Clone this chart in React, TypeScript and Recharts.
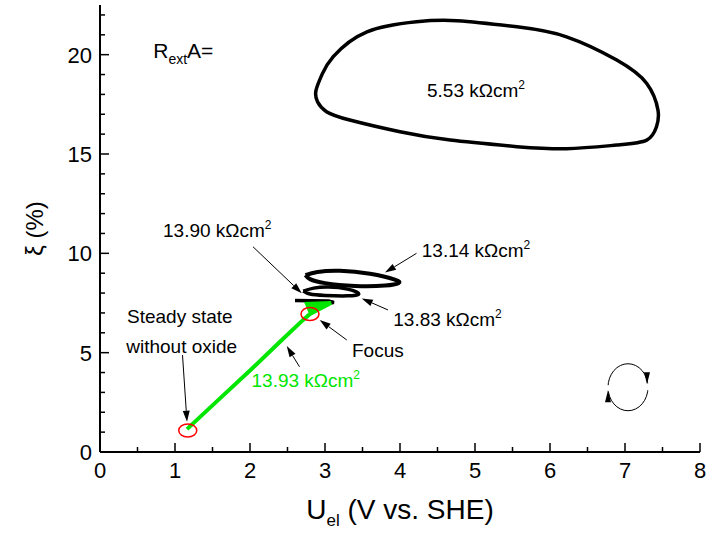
import { ComposedChart, Line, XAxis, YAxis, Scatter, ReferenceLine, ReferenceDot } from "recharts";

const FONT = '"Liberation Sans", Arial, sans-serif';
const GREEN = "#00e600";

const xTicks = [0, 0.5, 1, 1.5, 2, 2.5, 3, 3.5, 4, 4.5, 5, 5.5, 6, 6.5, 7, 7.5, 8];
const yTicks = [0, 1, 2, 3, 4, 5, 6, 7, 8, 9, 10, 11, 12, 13, 14, 15, 16, 17, 18, 19, 20, 21, 22];

// limit cycle, R_ext A = 5.53 kOhm cm2 (starts on the flat lower edge so the closure stays smooth)
const loop553 = [
	{ x: 5.56, y: 15.37 },
	{ x: 4.67, y: 15.7 },
	{ x: 4.0, y: 16.12 },
	{ x: 3.33, y: 16.71 },
	{ x: 3.02, y: 17.13 },
	{ x: 2.9, y: 17.63 },
	{ x: 2.88, y: 18.2 },
	{ x: 2.96, y: 19.0 },
	{ x: 3.11, y: 19.9 },
	{ x: 3.56, y: 21.15 },
	{ x: 4.22, y: 21.66 },
	{ x: 4.76, y: 21.71 },
	{ x: 5.56, y: 21.4 },
	{ x: 6.22, y: 20.9 },
	{ x: 6.89, y: 19.73 },
	{ x: 7.29, y: 18.55 },
	{ x: 7.44, y: 17.2 },
	{ x: 7.42, y: 16.37 },
	{ x: 7.29, y: 15.7 },
	{ x: 6.89, y: 15.45 },
	{ x: 6.22, y: 15.27 },
	{ x: 5.56, y: 15.37 },
];

const loop1314 = [
	{ x: 2.74, y: 8.9 },
	{ x: 2.9, y: 9.06 },
	{ x: 3.2, y: 9.12 },
	{ x: 3.6, y: 8.97 },
	{ x: 3.93, y: 8.68 },
	{ x: 3.98, y: 8.5 },
	{ x: 3.8, y: 8.38 },
	{ x: 3.4, y: 8.36 },
	{ x: 3.0, y: 8.5 },
	{ x: 2.8, y: 8.7 },
	{ x: 2.74, y: 8.9 },
];

const loop1383 = [
	{ x: 2.71, y: 8.1 },
	{ x: 2.85, y: 8.25 },
	{ x: 3.05, y: 8.3 },
	{ x: 3.3, y: 8.2 },
	{ x: 3.45, y: 7.97 },
	{ x: 3.3, y: 7.86 },
	{ x: 3.0, y: 7.88 },
	{ x: 2.8, y: 7.95 },
	{ x: 2.71, y: 8.1 },
];

const trace1390 = [
	{ x: 2.6, y: 7.62 },
	{ x: 3.05, y: 7.6 },
	{ x: 3.12, y: 7.52 },
	{ x: 2.78, y: 7.48 },
	{ x: 3.1, y: 7.5 },
];

const trace1393 = [
	{ x: 1.16, y: 1.15 },
	{ x: 1.6, y: 2.7 },
	{ x: 2.0, y: 4.1 },
	{ x: 2.4, y: 5.55 },
	{ x: 2.68, y: 6.55 },
	{ x: 2.8, y: 6.95 },
	{ x: 3.08, y: 7.5 },
	{ x: 2.76, y: 7.45 },
	{ x: 2.8, y: 7.1 },
	{ x: 3.0, y: 7.45 },
	{ x: 2.78, y: 7.3 },
	{ x: 2.85, y: 7.45 },
];

const markedStates = [
	{ x: 1.17, y: 1.08 },
	{ x: 2.8, y: 6.95 },
];

const arrows = [
	{ from: [2.04, 10.33], to: [2.69, 7.99] },
	{ from: [4.22, 10.0], to: [3.8, 9.03] },
	{ from: [3.84, 7.15], to: [3.49, 7.73] },
	{ from: [3.29, 5.64], to: [2.93, 6.64] },
	{ from: [1.1, 4.88], to: [1.16, 1.52] },
	{ from: [2.66, 4.29], to: [2.49, 5.33] },
];

const notes = [
	{ text: "5.53 kΩcm", sup: "2", x: 4.36, y: 17.85, color: "#000" },
	{ text: "13.90 kΩcm", sup: "2", x: 0.84, y: 10.84, color: "#000" },
	{ text: "13.14 kΩcm", sup: "2", x: 4.29, y: 9.83, color: "#000" },
	{ text: "13.83 kΩcm", sup: "2", x: 3.91, y: 6.34, color: "#000" },
	{ text: "Focus", sup: "", x: 3.36, y: 4.8, color: "#000" },
	{ text: "Steady state", sup: "", x: 0.36, y: 6.48, color: "#000" },
	{ text: "without oxide", sup: "", x: 0.35, y: 5.0, color: "#000" },
	{ text: "13.93 kΩcm", sup: "2", x: 2.02, y: 3.29, color: GREEN },
];

const rotationMark = { x: 7.04, y: 3.26 };
const rextLabel = { x: 0.71, y: 19.81 };

const tickLen = (v: number, step: number) => (v % step === 0 ? 9 : 5);

const BottomTick = (p: any) => {
	const v = p.payload.value;
	return (
		<g>
			<line x1={p.x} x2={p.x} y1={p.y} y2={p.y - tickLen(v, 1)} stroke="#000" strokeWidth={1.5} />
			{v % 1 === 0 && (
				<text x={p.x} y={p.y + 26} textAnchor="middle" fontSize={22} fontFamily={FONT} fill="#000">
					{v}
				</text>
			)}
		</g>
	);
};

const TopTick = (p: any) => (
	<line x1={p.x} x2={p.x} y1={p.y} y2={p.y + tickLen(p.payload.value, 1)} stroke="#000" strokeWidth={1.5} />
);

const LeftTick = (p: any) => {
	const v = p.payload.value;
	return (
		<g>
			<line x1={p.x} x2={p.x + tickLen(v, 5)} y1={p.y} y2={p.y} stroke="#000" strokeWidth={1.5} />
			{v % 5 === 0 && (
				<text x={p.x - 8} y={p.y + 8} textAnchor="end" fontSize={22} fontFamily={FONT} fill="#000">
					{v}
				</text>
			)}
		</g>
	);
};

const RightTick = (p: any) => (
	<line x1={p.x} x2={p.x - tickLen(p.payload.value, 5)} y1={p.y} y2={p.y} stroke="#000" strokeWidth={1.5} />
);

const XTitle = (p: any) => {
	const { x, y, width } = p.viewBox;
	return (
		<text x={x + width / 2} y={y + 67} textAnchor="middle" fontSize={28} fontFamily={FONT} fill="#000">
			U<tspan dy={7} fontSize={17}>el</tspan>
			<tspan dy={-7}> (V vs. SHE)</tspan>
		</text>
	);
};

const YTitle = (p: any) => {
	const { y, height } = p.viewBox;
	const cx = 34;
	const cy = y + height / 2;
	return (
		<text
			x={cx}
			y={cy}
			transform={`rotate(-90 ${cx} ${cy})`}
			textAnchor="middle"
			dominantBaseline="central"
			fontSize={24}
			fontFamily={FONT}
			fill="#000"
		>
			ξ (%)
		</text>
	);
};

const Arrow = (p: any) => {
	const { x1, y1, x2, y2 } = p;
	const a = Math.atan2(y2 - y1, x2 - x1);
	const L = 11;
	const W = 3.5;
	const bx = x2 - L * Math.cos(a);
	const by = y2 - L * Math.sin(a);
	const px = -Math.sin(a) * W;
	const py = Math.cos(a) * W;
	return (
		<g>
			<line x1={x1} y1={y1} x2={bx} y2={by} stroke="#000" strokeWidth={1} />
			<polygon points={`${x2},${y2} ${bx + px},${by + py} ${bx - px},${by - py}`} fill="#000" />
		</g>
	);
};

const StateRing = (p: any) => (
	<ellipse cx={p.cx} cy={p.cy} rx={9} ry={6.5} fill="none" stroke="#ff0000" strokeWidth={1.5} />
);

const RotationMark = (p: any) => {
	const { cx, cy } = p;
	return (
		<g>
			<ellipse cx={cx} cy={cy} rx={20} ry={23.5} fill="none" stroke="#000" strokeWidth={1} />
			<rect x={cx + 15} y={cy - 4} width={8} height={7} fill="#fff" />
			<rect x={cx - 23} y={cy - 2} width={8} height={6} fill="#fff" />
			<polygon points={`${cx + 16},${cy - 15} ${cx + 22},${cy - 15} ${cx + 19},${cy - 3}`} fill="#000" />
			<polygon points={`${cx - 23},${cy + 15} ${cx - 17},${cy + 15} ${cx - 20},${cy + 3}`} fill="#000" />
		</g>
	);
};

const Note = ({ n }: { n: (typeof notes)[number] }) => (p: any) => (
	<text x={p.cx} y={p.cy} fontSize={19} fontFamily={FONT} fill={n.color}>
		{n.text}
		{n.sup && (
			<tspan dy={-8} fontSize={12}>
				{n.sup}
			</tspan>
		)}
	</text>
);

const RextText = (p: any) => (
	<text x={p.cx} y={p.cy} fontSize={21} fontFamily={FONT} fill="#000">
		R
		<tspan dy={6} fontSize={14}>
			ext
		</tspan>
		<tspan dy={-6}>A=</tspan>
	</text>
);

const ids = { xAxisId: "b", yAxisId: "l" };

export default function App() {
	return (
		<div style={{ position: "absolute", left: 0, top: 0, width: 706, height: 535, background: "#fff" }}>
			<ComposedChart width={706} height={535} margin={{ top: 5, right: 6, bottom: 0, left: 0 }}>
				<XAxis
					xAxisId="b"
					type="number"
					dataKey="x"
					domain={[0, 8]}
					ticks={xTicks}
					interval={0}
					allowDataOverflow
					height={83}
					tickSize={0}
					tickMargin={0}
					tickLine={false}
					tick={BottomTick}
					axisLine={{ stroke: "#000", strokeWidth: 2 }}
					label={XTitle}
				/>
				<XAxis
					xAxisId="t"
					orientation="top"
					type="number"
					dataKey="x"
					domain={[0, 8]}
					ticks={xTicks}
					interval={0}
					allowDataOverflow
					height={0}
					tickSize={0}
					tickMargin={0}
					tickLine={false}
					tick={TopTick}
					axisLine={{ stroke: "#000", strokeWidth: 2 }}
				/>
				<YAxis
					yAxisId="l"
					type="number"
					dataKey="y"
					domain={[0, 22.5]}
					ticks={yTicks}
					interval={0}
					allowDataOverflow
					width={100}
					tickSize={0}
					tickMargin={0}
					tickLine={false}
					tick={LeftTick}
					axisLine={{ stroke: "#000", strokeWidth: 2 }}
					label={YTitle}
				/>
				<YAxis
					yAxisId="r"
					orientation="right"
					type="number"
					dataKey="y"
					domain={[0, 22.5]}
					ticks={yTicks}
					interval={0}
					allowDataOverflow
					width={0}
					tickSize={0}
					tickMargin={0}
					tickLine={false}
					tick={RightTick}
					axisLine={{ stroke: "#000", strokeWidth: 2 }}
				/>

				<Line {...ids} data={loop553} dataKey="y" type="natural" stroke="#000" strokeWidth={3.5} dot={false} activeDot={false} isAnimationActive={false} />
				<Line {...ids} data={loop1314} dataKey="y" type="natural" stroke="#000" strokeWidth={4} dot={false} activeDot={false} isAnimationActive={false} />
				<Line {...ids} data={loop1383} dataKey="y" type="natural" stroke="#000" strokeWidth={3.5} dot={false} activeDot={false} isAnimationActive={false} />
				<Line {...ids} data={trace1390} dataKey="y" type="linear" stroke="#000" strokeWidth={3.5} dot={false} activeDot={false} isAnimationActive={false} />
				<Line {...ids} data={trace1393} dataKey="y" type="linear" stroke={GREEN} strokeWidth={4} dot={false} activeDot={false} isAnimationActive={false} />

				<Scatter {...ids} data={markedStates} dataKey="y" shape={StateRing} isAnimationActive={false} />

				{arrows.map((a, i) => (
					<ReferenceLine
						key={`arrow-${i}`}
						{...ids}
						segment={[
							{ x: a.from[0], y: a.from[1] },
							{ x: a.to[0], y: a.to[1] },
						]}
						shape={Arrow}
					/>
				))}

				{notes.map((n, i) => (
					<ReferenceDot key={`note-${i}`} {...ids} x={n.x} y={n.y} r={0} shape={Note({ n })} />
				))}
				<ReferenceDot {...ids} x={rextLabel.x} y={rextLabel.y} r={0} shape={RextText} />
				<ReferenceDot {...ids} x={rotationMark.x} y={rotationMark.y} r={0} shape={RotationMark} />
			</ComposedChart>
		</div>
	);
}
